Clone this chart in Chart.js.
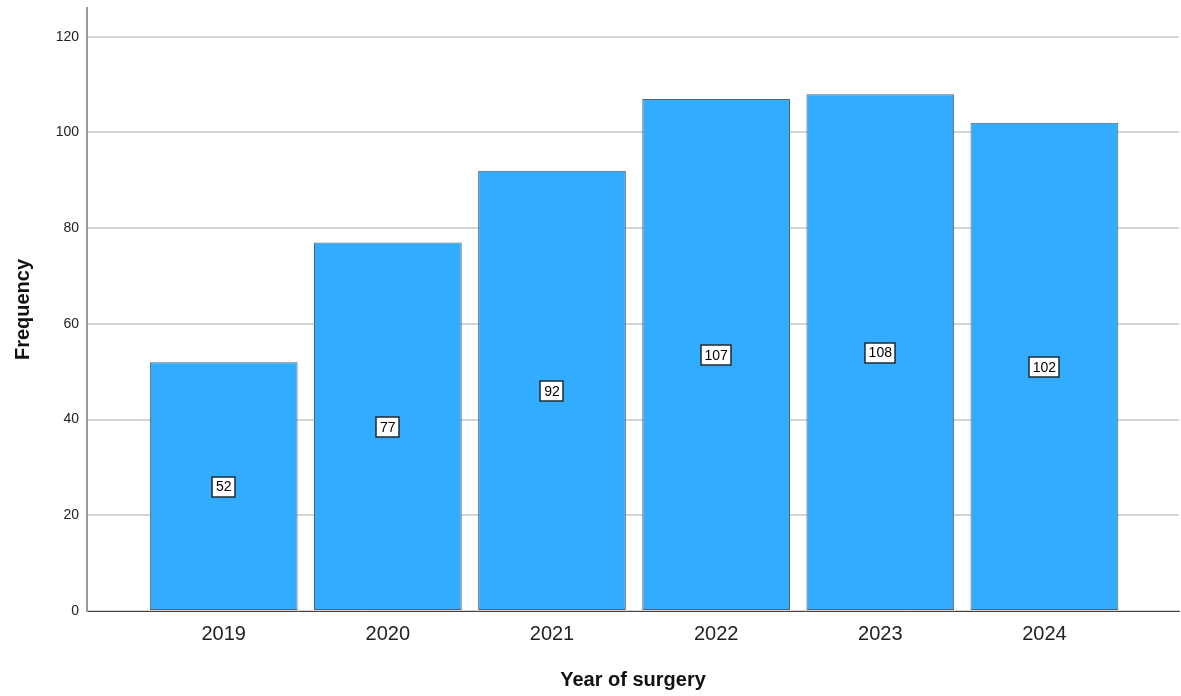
<!DOCTYPE html>
<html>
<head>
<meta charset="utf-8">
<script src="https://cdn.jsdelivr.net/npm/chart.js@4"></script>
<style>
  html, body { margin: 0; padding: 0; background: #ffffff; }
  #wrap { width: 1181px; height: 696px; }
</style>
</head>
<body>
<div id="wrap"><canvas id="chartYears"></canvas></div>
<script>
let years = ['2019', '2020', '2021', '2022', '2023', '2024'];
let frequencies = [52, 77, 92, 107, 108, 102];
let yTicks = [0, 20, 40, 60, 80, 100, 120];

// plugin for the boxed value labels in the middle of each bar
const valueBoxes = {
    id: 'valueBoxes',
    afterDatasetsDraw(chart) {
        const ctx = chart.ctx;
        const meta = chart.getDatasetMeta(0);
        const yScale = chart.scales.y;
        ctx.save();
        ctx.font = '14px "Liberation Sans", Arial, sans-serif';
        ctx.textAlign = 'center';
        ctx.textBaseline = 'middle';
        meta.data.forEach(function(bar, i) {
            const v = frequencies[i];
            const y = yScale.getPixelForValue(v / 2);
            const txt = String(v);
            const w = Math.round(ctx.measureText(txt).width + 7);
            const h = 20;
            const bx = Math.round(bar.x - w / 2);
            const by = Math.round(y - h / 2);
            ctx.fillStyle = '#ffffff';
            ctx.fillRect(bx, by, w, h);
            ctx.strokeStyle = '#1c2a36';
            ctx.lineWidth = 1.5;
            ctx.strokeRect(bx, by, w, h);
            ctx.fillStyle = '#000000';
            ctx.fillText(txt, bar.x, y + 1);
        });
        ctx.restore();
    }
};

let ctx1 = document.getElementById('chartYears').getContext('2d');

new Chart(ctx1, {
    type: 'bar',
    data: {
        datasets: [{
            label: 'Frequency',
            data: frequencies.map(function(v, i) { return { x: i, y: v }; }),
            backgroundColor: '#31acfe',
            borderColor: '#56626d',
            borderWidth: 1,
            borderSkipped: false,
            barPercentage: 0.9,
            categoryPercentage: 1.0
        }]
    },
    options: {
        responsive: true,
        maintainAspectRatio: false,
        animation: false,
        layout: { padding: { top: 8, right: 2, left: 0, bottom: 0 } },
        plugins: {
            legend: { display: false },
            tooltip: { enabled: false }
        },
        scales: {
            x: {
                type: 'linear',
                offset: false,
                min: -0.833,
                max: 5.82,
                afterBuildTicks: function(scale) {
                    scale.ticks = years.map(function(y, i) { return { value: i }; });
                },
                afterFit: function(scale) { scale.height = 85; },
                grid: { display: false, drawTicks: false },
                border: { display: true, color: '#444444', width: 1 },
                ticks: {
                    autoSkip: false,
                    maxRotation: 0,
                    padding: 11,
                    color: '#222222',
                    font: { family: '"Liberation Sans", Arial, sans-serif', size: 20 },
                    callback: function(value) { return years[value]; }
                },
                title: {
                    display: true,
                    text: 'Year of surgery',
                    color: '#111111',
                    padding: { top: 22 },
                    font: { family: '"Liberation Sans", Arial, sans-serif', size: 20, weight: 'bold' }
                }
            },
            y: {
                min: 0,
                max: 126,
                afterBuildTicks: function(scale) {
                    scale.ticks = yTicks.map(function(v) { return { value: v }; });
                },
                afterFit: function(scale) {
                    scale.width = 87;
                    scale.paddingTop = 0;
                },
                grid: { color: '#d4d4d4', lineWidth: 2, drawTicks: false },
                border: { display: true, color: '#999999', width: 2 },
                ticks: {
                    padding: 8,
                    color: '#222222',
                    font: { family: '"Liberation Sans", Arial, sans-serif', size: 14 }
                },
                title: {
                    display: true,
                    text: 'Frequency',
                    color: '#111111',
                    padding: { top: 11, bottom: 4 },
                    font: { family: '"Liberation Sans", Arial, sans-serif', size: 20, weight: 'bold' }
                }
            }
        }
    },
    plugins: [valueBoxes]
});
</script>
</body>
</html>
